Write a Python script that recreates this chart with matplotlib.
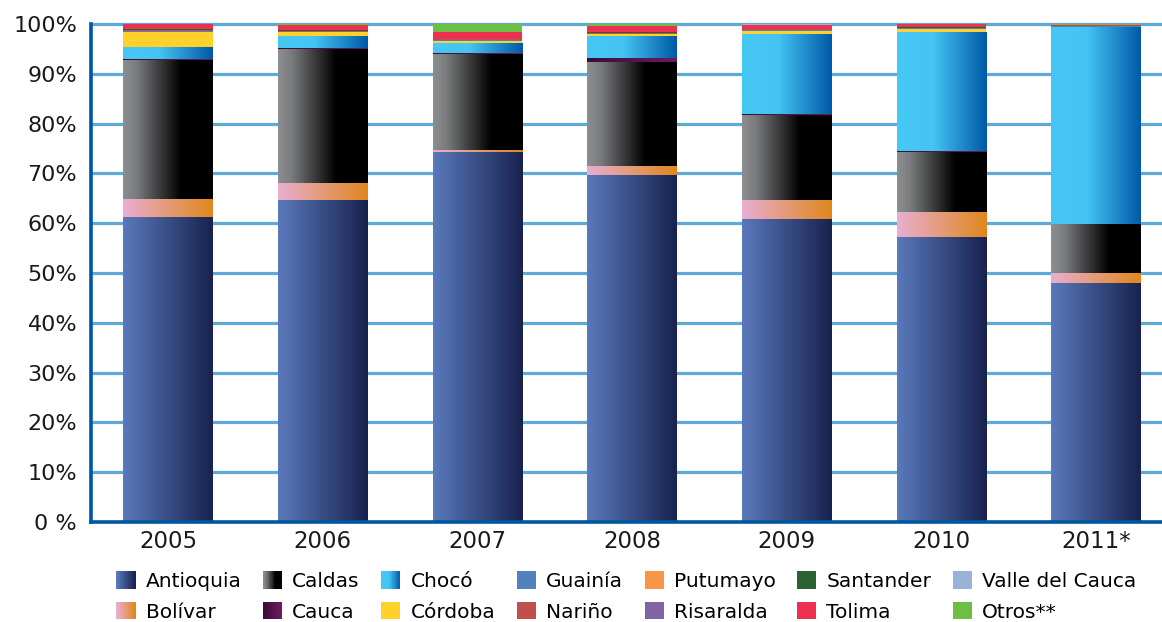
import numpy as np
import matplotlib
matplotlib.use('Agg')
import matplotlib.pyplot as plt
from matplotlib.patches import Rectangle
from matplotlib.legend_handler import HandlerBase
from matplotlib.colors import to_rgb

plt.rcParams['font.family'] = ['DejaVu Sans']

years = ['2005', '2006', '2007', '2008', '2009', '2010', '2011*']

# participacion (%) por departamento, de abajo hacia arriba
antioquia = [61.2, 64.7, 74.3, 69.7, 60.8, 57.2, 48.0]
bolivar   = [3.7, 3.4, 0.4, 1.8, 3.9, 5.0, 2.0]
caldas    = [27.9, 26.8, 19.3, 20.9, 17.1, 12.1, 9.8]
cauca     = [0.2, 0.2, 0.2, 0.8, 0.2, 0.1, 0.1]
choco     = [2.4, 2.5, 2.0, 4.4, 16.0, 23.9, 39.5]
cordoba   = [3.0, 0.7, 0.4, 0.3, 0.6, 0.7, 0.0]
guainia   = [0.1, 0.1, 0.1, 0.1, 0.1, 0.1, 0.1]
narino    = [0.2, 0.2, 0.2, 0.2, 0.2, 0.1, 0.1]
putumayo  = [0.0, 0.0, 0.0, 0.0, 0.0, 0.0, 0.0]
risaralda = [0.1, 0.0, 0.0, 0.0, 0.0, 0.0, 0.0]
santander = [0.2, 0.1, 0.1, 0.1, 0.1, 0.1, 0.1]
tolima    = [1.0, 1.2, 1.3, 1.3, 0.8, 0.7, 0.2]
valle     = [0.0, 0.0, 0.0, 0.0, 0.2, 0.0, 0.0]
otros     = [0.0, 0.1, 1.7, 0.4, 0.0, 0.0, 0.1]

series = [
    ('Antioquia', antioquia),
    ('Bolívar', bolivar),
    ('Caldas', caldas),
    ('Cauca', cauca),
    ('Chocó', choco),
    ('Córdoba', cordoba),
    ('Guainía', guainia),
    ('Nariño', narino),
    ('Putumayo', putumayo),
    ('Risaralda', risaralda),
    ('Santander', santander),
    ('Tolima', tolima),
    ('Valle del Cauca', valle),
    ('Otros**', otros),
]

# colores: degradados horizontales (lista de paradas) o colores planos
colores = {
    'Antioquia': [(0.0, '#5a79bb'), (1.0, '#18224f')],
    'Bolívar': [(0.0, '#e9aed2'), (1.0, '#e0871c')],
    'Caldas': [(0.0, '#8d8e90'), (0.15, '#7a7b7d'), (0.65, '#000000'), (1.0, '#000000')],
    'Cauca': [(0.0, '#3a0c36'), (1.0, '#6e1a62')],
    'Chocó': [(0.0, '#45c8f5'), (0.4, '#45c4f2'), (1.0, '#005aa8')],
    'Córdoba': '#ffd12a',
    'Guainía': '#4f81bd',
    'Nariño': '#c0504d',
    'Putumayo': '#f79646',
    'Risaralda': '#8064a2',
    'Santander': '#2b6030',
    'Tolima': '#ee3050',
    'Valle del Cauca': '#9bb2d8',
    'Otros**': '#6cbf44',
}


def color_en(stops, f):
    pos = [s[0] for s in stops]
    cols = np.array([to_rgb(s[1]) for s in stops])
    return tuple(np.interp(f, pos, cols[:, k]) for k in range(3))


def degradado(stops, n=256):
    f = np.linspace(0, 1, n)
    img = np.array([color_en(stops, v) for v in f])
    return img[np.newaxis, :, :]


class HandlerDegradado(HandlerBase):
    def __init__(self, stops):
        super().__init__()
        self.stops = stops

    def create_artists(self, legend, orig_handle, xdescent, ydescent,
                       width, height, fontsize, trans):
        n = 24
        arts = []
        for i in range(n):
            c = color_en(self.stops, i / (n - 1))
            r = Rectangle((-xdescent + i * width / n, -ydescent), width / n * 1.08, height,
                          facecolor=c, edgecolor='none', transform=trans)
            arts.append(r)
        return arts


fig = plt.figure(figsize=(11.62, 6.22), dpi=100)
ax = fig.add_axes([0.0783, 0.1608, 0.9217, 0.8006])

x = np.arange(len(years))
ancho = 0.58
base = np.zeros(len(years))
handles = []
hmap = {}
for nombre, vals in series:
    vals = np.array(vals)
    col = colores[nombre]
    if isinstance(col, list):
        fc = color_en(col, 0.5)
    else:
        fc = col
    bars = ax.bar(x, vals, ancho, bottom=base, color=fc, edgecolor='none', zorder=3)
    if isinstance(col, list):
        img = degradado(col)
        for b in bars:
            if b.get_height() <= 0:
                continue
            x0 = b.get_x()
            y0 = b.get_y()
            im = ax.imshow(img, extent=[x0, x0 + b.get_width(), y0, y0 + b.get_height()],
                           aspect='auto', zorder=3.5, interpolation='bilinear')
            im.set_clip_path(b)
        hmap[bars] = HandlerDegradado(col)
    handles.append(bars)
    base = base + vals

ax.set_xlim(-0.498, 6.425)
ax.set_ylim(0, 100)

for yv in range(10, 101, 10):
    ax.axhline(yv, color='#5fa9d6', lw=2.3, zorder=1, clip_on=False)

ax.set_yticks(range(0, 101, 10))
ax.set_yticklabels(['0 %'] + ['%d%%' % v for v in range(10, 101, 10)])
ax.set_xticks(x)
ax.set_xticklabels(years)
ax.tick_params(axis='y', length=0, pad=10, labelsize=16, labelcolor='#1a1a1a')
ax.tick_params(axis='x', length=0, pad=6, labelsize=16.5, labelcolor='#1a1a1a')

for s in ['top', 'right']:
    ax.spines[s].set_visible(False)
for s in ['left', 'bottom']:
    ax.spines[s].set_color('#0057a0')
    ax.spines[s].set_linewidth(2.6)
    ax.spines[s].set_zorder(5)

fig.legend(handles, [s[0] for s in series], handler_map=hmap, ncol=7,
           loc='center', bbox_to_anchor=(0.539, 0.041), frameon=False,
           fontsize=14.5, handlelength=0.95, handleheight=0.95, handletextpad=0.5,
           columnspacing=1.07, labelspacing=0.55, borderpad=0)

fig.savefig('out.png', dpi=100)
